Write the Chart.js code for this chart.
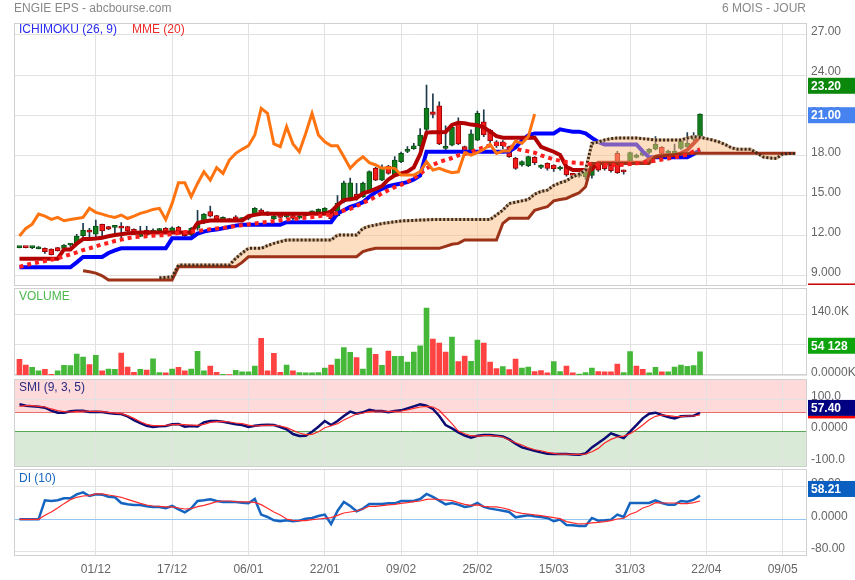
<!DOCTYPE html>
<html>
<head>
<meta charset="utf-8">
<script src="https://cdn.jsdelivr.net/npm/chart.js@4.4.1/dist/chart.umd.min.js"></script>
<style>
  body { margin: 0; background: #fff; width: 855px; height: 580px; overflow: hidden; position: relative; font-family: "Liberation Sans", Arial, sans-serif; }
  canvas { position: absolute; left: 0; }
  .t { position: absolute; white-space: nowrap; font-size: 12px; line-height: 14px; }
</style>
</head>
<body>
<canvas id="cMain" width="855" height="287" style="top:0"></canvas>
<canvas id="cVol" width="855" height="90" style="top:286px"></canvas>
<canvas id="cSmi" width="855" height="91" style="top:377px"></canvas>
<canvas id="cDi" width="855" height="112" style="top:468px"></canvas>

<div class="t" style="left:14px;top:1px;color:#888">ENGIE EPS - abcbourse.com</div>
<div class="t" style="right:49px;top:1px;color:#888">6 MOIS - JOUR</div>
<div class="t" style="left:19px;top:22px;color:#2b2bf0">ICHIMOKU (26, 9)</div>
<div class="t" style="left:132px;top:22px;color:#ee2a2a">MME (20)</div>
<div class="t" style="left:19px;top:289px;color:#4cb84c">VOLUME</div>
<div class="t" style="left:19px;top:380px;color:#2a2a80">SMI (9, 3, 5)</div>
<div class="t" style="left:19px;top:471px;color:#1565c0">DI (10)</div>

<script>
// ---- data (one value per trading day) ----
const xLabels = ['01/12', '17/12', '06/01', '22/01', '09/02', '25/02', '15/03', '31/03', '22/04', '09/05'];
const xTickIdx = [12, 24, 36, 48, 60, 72, 84, 96, 108, 120];

const open = [11.10,11.15,11.10,11.02,11.05,11.00,11.10,11.05,11.30,11.42, 12.00,12.42,12.10,12.84,12.68,12.62,12.72,12.68,12.47,11.95,
  12.40,12.25,12.37,12.54,12.30,12.64,12.30,12.05,12.55,12.95, 13.79,13.49,13.20,13.25,13.41,13.20,13.28,13.60,13.91,13.74,
  13.24,13.60,13.40,13.50,13.30,13.50,13.70,13.79,13.80,13.91, 13.50,14.53,14.66,15.11,14.91,15.28,17.03,16.15,17.20,16.53,
  17.52,18.30,18.50,18.72,19.94,21.25,21.71,18.52,18.77,20.51, 18.65,18.27,19.14,20.51,19.89,19.02,19.02,18.65,17.77,17.28,
  17.22,17.85,17.10,17.40,17.27,16.98,17.15,16.60,16.45,16.40, 16.50,17.35,17.40,17.27,18.15,16.85,17.52,17.85,18.02,18.22,
  18.47,18.60,18.15,18.15,18.52,18.65,19.19,19.39];
const close = [11.15,11.10,11.10,11.15,10.80,10.58,10.85,11.30,11.32,11.97, 12.42,12.25,12.72,12.35,12.48,12.70,12.55,12.35,12.17,12.17,
  12.05,12.42,12.49,12.25,12.59,12.30,12.00,12.54,12.86,13.61, 13.46,13.21,13.36,13.11,13.21,13.28,13.36,14.04,13.74,13.61,
  13.46,13.36,13.54,13.28,13.46,13.66,13.79,13.96,14.04,13.25, 14.41,15.95,15.95,14.91,15.90,16.78,16.15,17.08,16.65,17.65,
  18.15,18.45,18.72,19.52,21.51,21.06,18.85,18.65,20.10,18.85, 18.27,19.60,21.14,19.52,19.10,18.72,18.72,17.90,17.03,17.53,
  17.90,17.45,17.28,17.03,17.00,17.05,16.53,16.50,16.53,16.78, 17.45,16.90,17.00,16.85,16.70,16.77,18.20,18.02,18.20,18.45,
  18.82,18.15,18.32,18.32,19.07,18.90,19.39,21.08];
const high = [11.18,11.17,11.18,11.18,11.08,11.02,11.12,11.33,11.40,12.09, 12.92,12.55,13.16,12.86,12.70,12.72,12.97,12.70,12.50,12.70,
  12.70,12.50,12.55,12.60,12.65,12.70,12.35,12.60,13.90,13.65, 14.20,13.52,13.40,13.30,13.50,13.35,13.40,14.10,14.00,13.80,
  13.55,13.66,13.70,13.55,13.55,13.75,13.85,14.00,14.10,13.95, 15.00,16.07,16.30,15.90,16.00,16.85,17.10,17.30,17.25,17.90,
  18.25,18.65,18.90,20.00,23.25,22.60,22.00,20.20,20.20,20.80, 18.70,19.90,21.30,21.40,19.95,19.10,19.10,18.70,17.85,17.60,
  17.95,17.90,17.30,17.45,17.30,17.20,17.20,16.65,16.60,16.85, 17.50,17.40,17.45,17.30,18.30,16.90,18.25,18.10,18.30,18.50,
  19.40,18.65,18.40,18.85,19.10,19.70,19.70,21.10];
const low = [11.08,11.08,11.02,11.00,10.67,10.55,10.83,11.00,11.20,11.40, 11.80,11.80,11.93,12.00,12.45,12.15,11.67,12.30,12.10,11.93,
  12.00,12.20,12.30,12.20,12.25,12.25,11.95,12.00,12.40,12.90, 13.40,13.18,13.15,13.05,13.15,13.15,13.20,13.55,13.60,13.50,
  13.20,13.30,13.30,13.20,13.25,13.45,13.65,13.75,13.75,13.20, 13.45,14.45,14.60,14.65,14.85,15.20,16.10,16.10,16.60,16.50,
  17.45,18.20,18.45,18.40,19.77,20.80,18.80,18.40,18.70,18.80, 18.20,18.20,19.10,19.40,18.95,18.60,18.50,17.85,16.95,17.20,
  17.15,17.30,17.00,16.90,16.80,16.90,16.45,16.45,16.35,16.20, 16.30,16.80,16.90,16.75,16.65,16.60,17.45,17.80,17.95,18.10,
  18.40,18.10,18.05,18.10,18.45,18.60,19.10,19.30];

const kijun = [9.63,9.63,9.63,9.63,9.63,9.63,9.63,9.63,9.63,10.0, 10.4,10.4,10.4,10.4,10.7,10.9,11.05,11.05,11.05,11.05,
  11.05,11.05,11.05,11.05,11.8,11.8,11.8,11.8,12.15,12.3, 12.4,12.45,12.55,12.65,12.75,12.82,12.82,12.82,12.82,12.82,
  12.82,12.82,13.0,13.0,13.0,13.0,13.0,13.0,13.0,13.0, 13.65,13.9,14.15,14.3,14.5,14.9,15.25,15.5,15.7,15.8,
  15.9,16.0,16.2,16.5,18.27,18.27,18.27,18.27,18.27,18.27, 18.27,18.27,18.27,18.27,18.27,18.27,18.27,18.3,18.6,19.1,
  19.5,19.64,19.64,19.64,19.64,19.94,19.85,19.77,19.77,19.64, 19.3,19.0,18.82,18.82,18.82,18.82,18.82,18.82,18.3,17.85,
  17.85,17.85,17.85,17.85,17.85,17.85,18.1,18.4];
const tenkan = [10.28,10.28,10.28,10.28,10.28,10.28,10.28,10.97,10.97,11.4, 11.74,11.74,11.78,11.84,11.95,12.04,12.1,12.17,12.2,12.24,
  12.24,12.24,12.24,12.24,12.24,12.24,12.24,12.24,12.95,13.05, 13.13,13.13,13.13,13.13,13.13,13.13,13.45,13.55,13.63,13.63,
  13.63,13.63,13.63,13.63,13.63,13.63,13.63,13.63,13.63,13.79, 14.28,14.66,14.72,14.8,15.16,15.3,15.5,15.7,16.2,16.5,
  16.65,16.78,17.1,18.1,19.7,19.72,19.72,19.75,20.27,20.44, 20.4,20.3,20.25,20.1,19.77,19.44,19.32,19.32,19.32,19.32,
  19.32,19.32,18.64,18.45,18.27,18.02,17.15,16.9,16.9,16.9, 16.95,17.45,17.45,17.45,17.45,17.45,17.45,17.45,17.45,17.7,
  17.9,18.0,18.0,18.0,18.15,18.4,18.9,19.4];
const mme20 = [9.67,9.8,9.92,10.0,10.1,10.2,10.3,10.45,10.6,10.75, 10.92,11.05,11.2,11.35,11.45,11.6,11.7,11.8,11.88,11.92,
  11.96,12.0,12.02,12.04,12.12,12.2,12.25,12.3,12.35,12.42, 12.48,12.54,12.58,12.64,12.72,12.78,12.84,12.9,12.96,13.02,
  13.08,13.14,13.2,13.24,13.29,13.34,13.39,13.45,13.52,13.59, 13.7,13.88,14.0,14.2,14.45,14.66,14.9,15.16,15.4,15.62,
  15.8,16.03,16.3,16.6,17.03,17.3,17.5,17.65,17.8,18.0, 18.1,18.25,18.45,18.6,18.75,18.85,18.85,18.7,18.5,18.38,
  18.3,18.2,18.0,17.85,17.7,17.6,17.5,17.46,17.42,17.38, 17.34,17.3,17.28,17.27,17.28,17.3,17.35,17.4,17.46,17.52,
  17.6,17.68,17.76,17.85,17.95,18.05,18.3,18.45];
const chikou = [11.97,12.54,12.86,13.61,13.46,13.21,13.36,13.11,13.21,13.28, 13.36,14.04,13.74,13.61,13.46,13.36,13.54,13.28,13.46,13.66,
  13.79,13.96,14.04,13.21,14.41,15.95,15.95,14.91,15.9,16.78, 16.15,17.08,16.65,17.65,18.15,18.45,18.72,19.52,21.51,21.14,
  18.85,18.65,20.14,18.85,18.27,19.64,21.14,19.52,19.02,18.72, 18.72,17.9,17.03,17.53,17.9,17.45,17.28,17.03,17.08,17.03,
  16.53,16.53,16.53,16.78,17.53,16.9,17.03,16.85,16.7,16.77, 18.2,18.02,18.2,18.45,18.82,18.15,18.32,18.32,19.07,18.9,
  19.39,21.08];
// cloud lines run 15 days past the last candle
const senkouA = [null,null,null,null,null,null,null,null,null,null, null,null,null,null,null,null,null,null,null,null,
  null,null,8.85,8.88,8.92,9.8,9.8,9.8,9.8,9.8, 9.8,9.8,9.8,9.8,10.3,10.7,11.05,11.05,11.05,11.25,
  11.42,11.55,11.67,11.67,11.67,11.67,11.67,11.67,11.67,11.67, 12.04,12.04,12.04,12.04,12.54,12.7,12.8,12.9,12.97,13.04,
  13.1,13.12,13.14,13.16,13.18,13.2,13.2,13.2,13.2,13.2, 13.2,13.2,13.2,13.2,13.2,13.55,13.9,14.4,14.5,14.6,
  14.7,15.1,15.3,15.4,15.75,15.95,16.1,16.4,16.6,16.9, 18.9,19.0,19.15,19.25,19.3,19.3,19.3,19.3,19.25,19.2,
  19.15,19.15,19.15,19.15,19.15,19.3,19.39,19.35,19.25,19.14, 19.0,18.8,18.55,18.45,18.45,18.45,18.15,17.87,17.8,17.77,
  18.1,18.14,18.14];
const senkouB = [null,null,null,null,null,null,null,null,null,null, 9.37,9.3,9.2,9.0,8.68,8.68,8.68,8.68,8.68,8.68,
  8.68,8.68,8.68,8.68,8.68,9.67,9.67,9.67,9.67,9.67, 9.67,9.67,9.67,9.67,9.67,10.0,10.42,10.42,10.42,10.42,
  10.42,10.42,10.42,10.42,10.42,10.42,10.42,10.42,10.42,10.42, 10.42,10.42,10.42,10.42,10.8,10.95,11.05,11.05,11.05,11.05,
  11.05,11.05,11.05,11.05,11.05,11.05,11.05,11.2,11.35,11.42, 11.67,11.67,11.67,11.67,11.67,11.67,12.92,13.3,13.3,13.3,
  13.3,13.9,14.04,14.16,14.6,14.7,14.78,15.0,15.2,15.65, 17.4,17.4,17.4,17.4,17.4,17.4,17.4,17.4,17.4,17.4,
  17.9,17.95,18.0,18.05,18.1,18.12,18.15,18.15,18.15,18.15, 18.15,18.15,18.15,18.15,18.15,18.15,18.15,18.15,18.15,18.15,
  18.15,18.15,18.15];
const mainTicks = [27, 24, 21, 18, 15, 12, 9];
const mainTickLabels = ['27.00', '24.00', '21.00', '18.00', '15.00', '12.00', '9.000'];

// volume in thousands, G = up day, R = down day
const volume = [36.7,23.7,18.4,10,13.8,2.3,10,23,22.2,49, 42,24.5,46,10,14.5,13.8,51,19,6.9,13.8,
  12.2,38,6,5.4,14.5,18.4,10,14.5,55,10, 21.4,6.9,2.3,1.5,11.5,7.7,7.7,21.4,85,10,
  50.5,6.9,23.7,10,6,5.4,5.4,6,16.8,23.7, 37.5,63.5,52.8,40.5,14.5,62.7,48.2,23,55.9,43.6,
  43.6,30.6,53.6,68,154.5,83.4,74.2,53.6,88,31.4, 44.4,32.1,81,74.2,30.6,15.3,19.9,13,37.5,16.8,
  19.1,8.4,10.7,5.4,31.4,8.4,21.4,5.4,3,6, 16.8,8.4,7.7,7.7,26,6,54.3,21.4,13.8,5.4,
  18.4,7.7,7.7,19.1,23.7,20.7,22.2,54.128];
const volDir = ('RRGGRRGGGG' + 'GRGRGGRRRG' + 'RGGRGRRGGG' + 'RRGRGGGGRR' + 'RRGRGGGGGR' +
  'GGGRGGRGRG' + 'GGGGGRRRGR' + 'RGGRRRGRRG' + 'GRRRGGRRGG' + 'GRRRRGGRRG' + 'GRGGGGGG').split('');
const volTicks = [140, 70, 0];
const volTickLabels = ['140.0K', '', '0.0000K'];

const smi = [84.7,80.4,78.3,77.2,74,64.6,58.2,58.2,62.4,64.6, 64.6,60.3,61.4,60.3,57.1,55,54,46.6,34.9,25.4,
  16.9,12.7,14.8,15.9,21.2,22.2,13.8,15.9,14.8,27.5, 31.7,31.7,29.6,25.4,21.2,19,12.7,16.9,19,20.1,
  19,12.7,5.3,-9.5,-15.9,-14.8,-2.1,13.8,31.7,19, 31.7,47.6,61.4,55,59.3,67.7,63.5,63.5,59.3,63.5,
  65.6,72,78.3,84.7,80.4,70,47.6,19,8.5,-4.2, -14.8,-21.2,-14.8,-12.7,-12.7,-14.8,-16.9,-26.5,-40.2,-51.9,
  -57.1,-62.4,-67.7,-72,-73,-73,-73,-74,-75.1,-70.9, -51.9,-38.1,-23.3,-7.4,-14.8,-22.2,-2.1,19,40.2,55,
  58.2,50.8,44.4,40.2,46.6,47.6,48.7,57.4];
const smiSignal = [78.3,80.4,80.4,78.3,76.2,70,64.6,61.4,60.3,62.4, 63.5,62.4,62.4,61.4,59.3,57,55,48.7,40.2,29.6,
  21.2,16.9,16.9,18,20.1,21.2,20.1,19,18,21.2, 27.5,29.6,30.7,28.6,25.4,23.3,19,15.9,16.9,18,
  18,15.9,10.6,2.1,-6.3,-11.6,-10.6,-2.1,10.6,16.9, 23.3,34.9,44.4,54,57.1,61.4,63.5,63.5,61.4,62.4,
  63.5,66.7,72,76.2,78.3,76.2,65.6,44.4,23.3,0, -8.5,-14.8,-15.9,-14.8,-14.8,-15.9,-19,-28.6,-37,-44.4,
  -52.9,-59.3,-62.4,-67.7,-70.9,-73,-73,-74,-74,-73, -65.6,-55,-38.1,-26.5,-19,-15.9,-8.5,4.2,19,36,
  46.6,50.8,48.7,46.6,45.5,47.6,47.6,50.8];
const smiTicks = [100, 0, -100];
const smiTickLabels = ['100.0', '0.0000', '-100.0'];
const smiHigh = 60, smiLow = 0;

const di = [0,0,0,0,46.8,45.1,46.8,51.7,51.7,61.5, 66.5,57.4,61.5,60.7,55.8,54.2,40.2,36.9,35.3,35.3,
  32,30.4,30.4,27.1,32.8,24.6,17.2,27.1,45.1,46.8, 49.2,45.1,42.7,42.7,42.7,41,39.4,50,11.5,5.7,
  -2.5,-4.9,-2.5,-4.9,-3.3,1.6,3.3,8.2,11.5,-11.5, 20.5,42.7,32.8,19.7,26.3,37.7,37.7,37.7,39.4,39.4,
  45.1,45.1,45.1,50,62.4,55,45.9,36.9,40.2,36.1, 30.4,32.8,40.2,30.4,26.3,23.8,21.3,18,4.9,7.4,
  9.8,7.4,5.7,3.3,-4.9,-0.8,-13.9,-14.8,-16.4,-16.4, 3.3,-3.3,-2.5,-0.8,11.5,5.7,40.2,40.2,40.2,40.2,
  46.8,40.2,36.1,36.1,45.1,43.5,48.4,58.2];
const diSignal = [0,0,0,0,9.8,18,27.9,38.6,48.4,54.2, 57.4,58.3,62.4,62.4,59.9,57.4,54.2,49.2,44.3,39.4,
  35.3,32.8,32,30.4,30.4,27.9,25.4,26.3,31.2,34.5, 38.6,43.5,45.1,45.1,43.5,42.7,42.7,41.8,36.1,27.1,
  18,10.7,0.8,-2.5,-3.3,-3.3,-0.8,0.8,2.5,4.1, 9.8,15.6,18,20.5,25.4,32,32,33.6,35.3,36.9,
  39.4,41,43.5,45.1,49.2,50,48.4,47.6,45.9,41, 36.9,34.5,35.3,32,30.4,30.4,27.9,23.8,18,14.8,
  13.1,10.7,9,6.6,4.1,1.6,-5.7,-9,-11.5,-10.7, -9,-7.4,-5.7,-3.3,0.8,2.5,12.3,18,27.9,32.8,
  41,40.2,40.2,40.2,38.6,38.6,41,45.1];
const diTicks = [80, 0, -80];
const diTickLabels = ['80.00', '0.0000', '-80.00'];

// ---- styling / helpers ----
const FONT = '"Liberation Sans", Arial, sans-serif';
const X_MIN = -0.86, X_MAX = 123.82;
const GREEN = '#0f7d1b', RED = '#f41c1c';
const CLOUD = 'rgba(251,190,130,0.5)';

function xy(arr) {
  return arr.map((v, i) => ({ x: i, y: v }));
}

function xAxis(showLabels) {
  return {
    type: 'linear', min: X_MIN, max: X_MAX, offset: false,
    grid: { color: '#e2e2e2', drawTicks: false, offset: false },
    border: { display: false },
    afterBuildTicks: s => { s.ticks = xTickIdx.map(v => ({ value: v })); },
    ticks: {
      display: showLabels, padding: 6, color: '#666', autoSkip: false, maxRotation: 0,
      font: { family: FONT, size: 12 },
      callback: (v, i) => xLabels[i]
    },
    afterFit: s => { s.height = showLabels ? 24 : 0; s.paddingLeft = 0; s.paddingRight = 0; }
  };
}

function yAxis(min, max, vals, labels) {
  return {
    position: 'right', min: min, max: max,
    grid: { color: '#e2e2e2', drawTicks: false },
    border: { display: false },
    afterBuildTicks: s => { s.ticks = vals.map(v => ({ value: v })); },
    ticks: {
      padding: 4, color: '#666', autoSkip: false, labelOffset: -3,
      font: { family: FONT, size: 12 },
      callback: (v, i) => labels[i]
    },
    afterFit: s => { s.width = 48; s.paddingTop = 0; s.paddingBottom = 0; }
  };
}

// bands, reference lines, frame and value boxes on the right
const deco = {
  id: 'deco',
  beforeDraw(chart, args, o) {
    const { ctx, chartArea: a } = chart;
    const y = chart.scales.y;
    (o.bands || []).forEach(b => {
      const y1 = y.getPixelForValue(b.from), y2 = y.getPixelForValue(b.to);
      ctx.fillStyle = b.color;
      ctx.fillRect(a.left, Math.min(y1, y2), a.right - a.left, Math.abs(y2 - y1));
    });
  },
  beforeDatasetsDraw(chart, args, o) {
    const { ctx, chartArea: a } = chart;
    const y = chart.scales.y;
    ctx.save();
    ctx.lineWidth = 1;
    (o.lines || []).forEach(l => {
      const py = Math.round(y.getPixelForValue(l.value)) + 0.5;
      ctx.strokeStyle = l.color;
      ctx.beginPath(); ctx.moveTo(a.left, py); ctx.lineTo(a.right, py); ctx.stroke();
    });
    ctx.strokeStyle = '#d0d0d0';
    ctx.strokeRect(Math.round(a.left) + 0.5, Math.round(a.top) + 0.5, Math.round(a.right - a.left) - 1, Math.round(a.bottom - a.top) - 1);
    ctx.restore();
  },
  afterDraw(chart, args, o) {
    const { ctx } = chart;
    const y = chart.scales.y;
    ctx.save();
    (o.badges || []).forEach(b => {
      const py = y.getPixelForValue(b.value) + (b.dy || 0);
      if (b.mark) {
        ctx.fillStyle = b.bg;
        ctx.fillRect(808, py - 1, 47, 1.5);
        return;
      }
      ctx.fillStyle = b.bg;
      ctx.fillRect(808, py - 8, 47, 16);
      if (b.under) { ctx.fillStyle = b.under; ctx.fillRect(808, py + 8, 47, 2.5); }
      ctx.fillStyle = '#fff';
      ctx.font = 'bold 12px ' + FONT;
      ctx.textBaseline = 'middle';
      ctx.fillText(b.text, 811, py + 0.5);
    });
    ctx.restore();
  }
};
Chart.register(deco);

function baseOptions(pad, showX, yCfg, decoCfg) {
  return {
    responsive: false, animation: false, events: [],
    layout: { padding: pad },
    elements: { point: { radius: 0 }, line: { tension: 0 } },
    plugins: { legend: { display: false }, tooltip: { enabled: false }, deco: decoCfg },
    scales: { x: xAxis(showX), y: yCfg }
  };
}

// ---- main panel: candles + ichimoku + MME ----
const candleData = open.map((o, i) => ({ x: i, y: [o, close[i]] }));
const wickData = open.map((o, i) => ({ x: i, y: [low[i], high[i]] }));
const upDown = c => close[c.dataIndex] >= open[c.dataIndex];

new Chart(document.getElementById('cMain'), {
  type: 'line',
  data: {
    datasets: [
      { label: 'chikou', data: xy(chikou), borderColor: '#ff7410', borderWidth: 3, order: 1 },
      { label: 'MME 20', data: xy(mme20), borderColor: '#ff1f1f', borderWidth: 4, borderDash: [4, 4], order: 2 },
      { label: 'senkou A dots', data: xy(senkouA), borderColor: '#3a2a20', borderWidth: 3, borderDash: [2, 2], order: 3 },
      { label: 'senkou B', data: xy(senkouB), borderColor: '#9c3318', borderWidth: 3, order: 3.5 },
      { label: 'senkou A', data: xy(senkouA), borderColor: '#d8b48e', borderWidth: 3, order: 4,
        fill: { target: 3, above: CLOUD, below: CLOUD } },
      { label: 'tenkan', data: xy(tenkan), borderColor: '#b30000', borderWidth: 4, order: 6 },
      { label: 'kijun', data: xy(kijun), borderColor: '#0000ff', borderWidth: 4, order: 7 },
      { type: 'bar', label: 'bodies', data: candleData, grouped: false, barThickness: 5, minBarLength: 2,
        backgroundColor: c => upDown(c) ? GREEN : RED,
        borderColor: c => upDown(c) ? '#0a5212' : '#9a0000',
        borderWidth: 1, borderSkipped: false, order: 8 },
      { type: 'bar', label: 'wicks', data: wickData, grouped: false, barThickness: 1,
        backgroundColor: '#1d3a4c', borderWidth: 0, order: 9 }
    ]
  },
  options: baseOptions({ left: 14, right: 0, top: 22.5, bottom: 2 }, false,
    yAxis(8.31, 27.93, mainTicks, mainTickLabels),
    { badges: [
      { value: 23.20, text: '23.20', bg: '#0b870b' },
      { value: 21.00, text: '21.00', bg: '#4683f0' },
      { value: 8.35, mark: true, bg: '#cc0000' }
    ] })
});

// ---- volume ----
new Chart(document.getElementById('cVol'), {
  type: 'bar',
  data: {
    datasets: [{
      data: xy(volume), grouped: false, barThickness: 5, borderWidth: 0,
      backgroundColor: c => volDir[c.dataIndex] === 'G' ? '#45b83a' : '#ff4242'
    }]
  },
  options: baseOptions({ left: 14, right: 0, top: 2.3, bottom: 0.7 }, false,
    yAxis(0, 200, volTicks, volTickLabels),
    { badges: [{ value: 54.128, text: '54 128', bg: '#0ca30c', dy: -6 }] })
});

// ---- SMI ----
new Chart(document.getElementById('cSmi'), {
  type: 'line',
  data: {
    datasets: [
      { data: xy(smiSignal), borderColor: '#ff2a2a', borderWidth: 1.2, order: 1 },
      { data: xy(smi), borderColor: '#0c0c72', borderWidth: 2.5, order: 2 }
    ]
  },
  options: baseOptions({ left: 14, right: 0, top: 2.3, bottom: 1 }, false,
    yAxis(-114, 164, smiTicks, smiTickLabels),
    {
      bands: [{ from: smiHigh, to: 164, color: '#ffdada' }, { from: -114, to: smiLow, color: '#d9ead6' }],
      lines: [{ value: smiHigh, color: '#ec6b6b' }, { value: smiLow, color: '#58a858' }],
      badges: [{ value: 57.40, text: '57.40', bg: '#000080', dy: -5, under: '#ff0000' }]
    })
});

// ---- DI ----
new Chart(document.getElementById('cDi'), {
  type: 'line',
  data: {
    datasets: [
      { data: xy(diSignal), borderColor: '#ff2a2a', borderWidth: 1.2, order: 1 },
      { data: xy(di), borderColor: '#1565c0', borderWidth: 2.5, order: 2 }
    ]
  },
  options: baseOptions({ left: 14, right: 0, top: 1, bottom: 0 }, true,
    yAxis(-90.4, 123.9, diTicks, diTickLabels),
    {
      lines: [{ value: 0, color: '#93c6f3' }],
      badges: [{ value: 58.21, text: '58.21', bg: '#0b5fc0', dy: -6.7 }]
    })
});
</script>
</body>
</html>
